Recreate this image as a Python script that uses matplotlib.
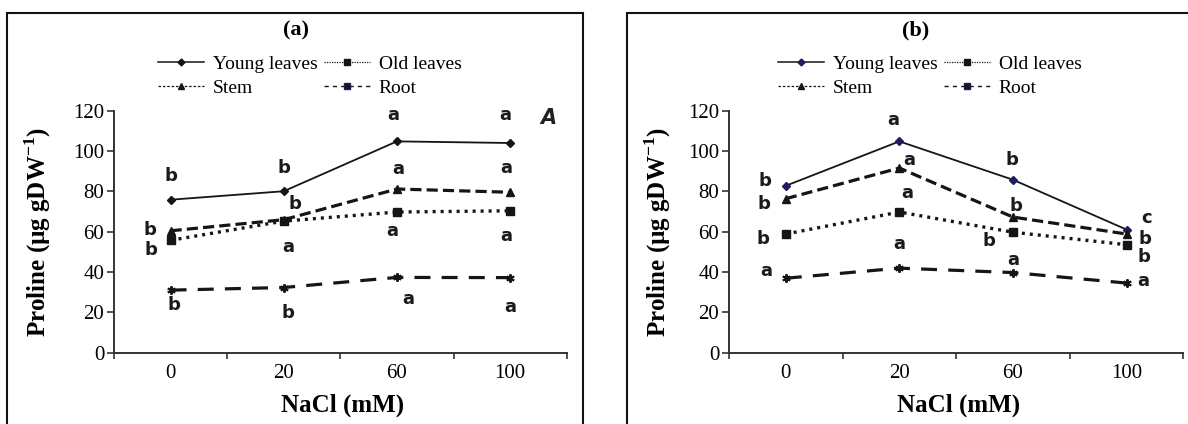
import matplotlib
matplotlib.use('Agg')
import matplotlib.pyplot as plt
from matplotlib.lines import Line2D
from matplotlib.patches import Rectangle

plt.rcParams['font.family'] = ['Liberation Serif', 'DejaVu Serif']
plt.rcParams['mathtext.fontset'] = 'custom'
plt.rcParams['mathtext.rm'] = 'Liberation Serif'
plt.rcParams['mathtext.bf'] = 'Liberation Serif:bold'

# categories (NaCl, mM)
nacl = ['0', '20', '60', '100']

# panel (a)
young_a = [75.8, 80.0, 104.7, 103.9]
old_a = [55.7, 65.2, 69.7, 70.3]
stem_a = [60.4, 65.9, 81.1, 79.5]
root_a = [31.0, 32.3, 37.3, 37.2]

# panel (b)
young_b = [82.7, 104.7, 85.7, 61.0]
old_b = [58.8, 69.7, 59.7, 53.5]
stem_b = [76.3, 91.5, 67.2, 58.8]
root_b = [36.9, 41.9, 39.7, 34.5]

# significance letters: (x index, y value, letter)
letters_a = [(0.0, 87.7, 'b'), (-0.18, 60.9, 'b'), (-0.17, 51.0, 'b'), (0.03, 23.7, 'b'),
             (1.0, 91.5, 'b'), (1.1, 73.8, 'b'), (1.04, 52.6, 'a'), (1.04, 19.9, 'b'),
             (1.97, 118.0, 'a'), (2.01, 91.0, 'a'), (1.96, 60.5, 'a'), (2.1, 26.5, 'a'),
             (2.96, 118.0, 'a'), (2.97, 91.5, 'a'), (2.97, 57.6, 'a'), (3.0, 22.5, 'a')]
letters_b = [(-0.18, 84.9, 'b'), (-0.19, 73.8, 'b'), (-0.2, 56.3, 'b'), (-0.17, 40.7, 'a'),
             (0.95, 115.1, 'a'), (1.09, 95.3, 'a'), (1.07, 79.1, 'a'), (1.0, 54.0, 'a'),
             (1.99, 95.3, 'b'), (2.03, 72.8, 'b'), (1.79, 55.1, 'b'), (2.0, 46.0, 'a'),
             (3.18, 66.7, 'c'), (3.16, 56.3, 'b'), (3.15, 47.6, 'b'), (3.15, 35.6, 'a')]

W, H = 1188, 424
fig = plt.figure(figsize=(W / 100, H / 100), dpi=100)


def fx(x):
    return x / W


def fy(y):
    return 1 - y / H


ink = '#151515'
navy = '#1c1c5e'


def panel(dx, ax_left, ax_right, title, young, old, stem, root, letters, marker_col):
    # frame around the panel
    fig.patches.append(Rectangle((fx(6.7 + dx), fy(440)), (576 / W), (440 - 13.3) / H,
                                 transform=fig.transFigure, fill=False,
                                 edgecolor='#111111', lw=1.5, clip_on=False))
    ax = fig.add_axes([fx(ax_left), fy(352.7), (ax_right - ax_left) / W, (352.7 - 110.5) / H])
    x = range(len(nacl))
    ax.plot(x, young, '-', color=ink, lw=1.3, marker='D', ms=4, mfc=marker_col, mec=marker_col)
    ax.plot(x, stem, color=ink, lw=2.3, ls=(0, (3.5, 1.6)), marker='^', ms=5.5)
    ax.plot(x, old, color=ink, lw=2.4, ls=(0, (0.9, 1.5)), marker='s', ms=5.5)
    ax.plot(x, root, color=ink, lw=2.3, ls=(0, (5, 3.5)), marker=(6, 2, 0), ms=6, mew=1.4)

    for lx, ly, t in letters:
        ax.text(lx, ly, t, ha='center', va='center', fontsize=13, fontweight='bold',
                family='DejaVu Sans', color='#1a1a1a')

    ax.set_xlim(-0.5, 3.5)
    ax.set_ylim(0, 120)
    ax.set_yticks(range(0, 121, 20))
    ax.set_xticks([-0.5, 0.5, 1.5, 2.5, 3.5])
    ax.set_xticklabels([])
    ax.set_xticks(list(x), minor=True)
    ax.set_xticklabels(nacl, minor=True)
    ax.tick_params(axis='x', which='major', direction='out', length=4, width=1.2, colors='#333333')
    ax.tick_params(axis='x', which='minor', length=0, pad=8, labelsize=15, labelcolor='black')
    ax.tick_params(axis='y', direction='out', length=5, width=1.2, pad=2, labelsize=15,
                   colors='#333333', labelcolor='black')
    for s in ['top', 'right']:
        ax.spines[s].set_visible(False)
    for s in ['left', 'bottom']:
        ax.spines[s].set_color('#333333')
        ax.spines[s].set_linewidth(1.4)

    fig.text(fx(296 + dx), fy(30.7), title, ha='center', va='center', fontsize=16, fontweight='bold')
    fig.text(fx(38 + dx), fy(232), r'Proline (µg gDW$^{\mathbf{-1}}$)', rotation=90,
             ha='center', va='center', fontsize=18, fontweight='bold')
    fig.text(fx((ax_left + ax_right) / 2 + 2), fy(405), 'NaCl (mM)', ha='center', va='center',
             fontsize=18, fontweight='bold')

    handles = [
        Line2D([], [], color=ink, lw=1.1, marker='D', ms=3.5, mfc=marker_col, mec=marker_col),
        Line2D([], [], color=ink, lw=0.9, ls=(0, (2, 1.5)), marker='^', ms=5),
        Line2D([], [], color=ink, lw=0.9, ls=(0, (1, 1)), marker='s', ms=5),
        Line2D([], [], color=ink, lw=1.0, ls=(0, (3, 3)), marker='s', ms=4, mfc=ink, mec=navy),
    ]
    labels = ['Young leaves', 'Stem', 'Old leaves', 'Root']
    fig.legend(handles, labels, loc='upper left', bbox_to_anchor=(fx(158 + dx), fy(55)),
               ncol=2, frameon=False, fontsize=14, handlelength=2.37, handletextpad=0.46,
               columnspacing=0.3, labelspacing=0.36, borderpad=0, borderaxespad=0)
    return ax


ax_a = panel(0, 114, 566.7, '(a)', young_a, old_a, stem_a, root_a, letters_a, ink)
ax_a.text(3.34, 116.5, 'A', ha='center', va='center', fontsize=15, fontweight='bold',
          style='italic', family='DejaVu Sans', color='#222222')
panel(620, 729, 1183.3, '(b)', young_b, old_b, stem_b, root_b, letters_b, navy)

fig.savefig('out.png', dpi=100)
